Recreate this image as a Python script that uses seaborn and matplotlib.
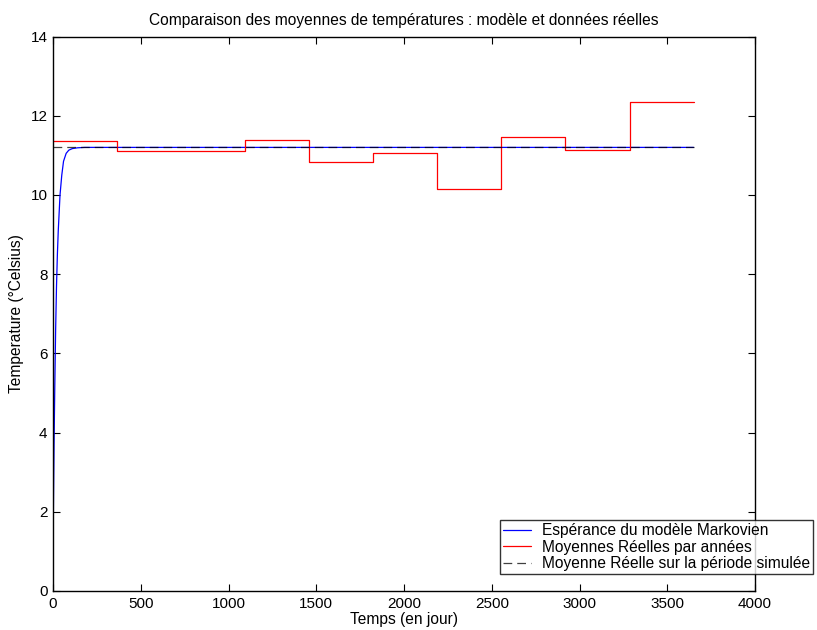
import numpy as np
import pandas as pd
import matplotlib
matplotlib.use("Agg")
import matplotlib.pyplot as plt
import seaborn as sns

# Yearly boundaries (days) and yearly mean temperatures (°C)
year_edges = [0, 365, 730, 1095, 1460, 1825, 2190, 2555, 2920, 3285, 3650]
yearly_means = [11.35, 11.12, 11.12, 11.39, 10.82, 11.05, 10.14, 11.47, 11.14, 12.35]

# Mean over the whole simulated period
period_mean = 11.20

# Expectation of the Markov model (days, °C)
model_days = [0, 3, 6, 10, 15, 20, 25, 30, 40, 50, 60, 75, 90, 110, 140, 180, 3650]
model_temp = [0.8, 2.4, 3.7, 5.1, 6.6, 7.7, 8.5, 9.1, 10.0, 10.5, 10.85, 11.05, 11.13, 11.17, 11.19, 11.2, 11.2]

x_ticks = [0, 500, 1000, 1500, 2000, 2500, 3000, 3500, 4000]
y_ticks = [0, 2, 4, 6, 8, 10, 12, 14]

sns.set_theme(style="white")
plt.rcParams["font.family"] = ["Liberation Sans", "DejaVu Sans"]
plt.rcParams["font.size"] = 11
plt.rcParams["text.color"] = "black"
plt.rcParams["axes.labelcolor"] = "black"
plt.rcParams["axes.titlecolor"] = "black"
plt.rcParams["legend.labelcolor"] = "black"

fig = plt.figure(figsize=(8.17, 6.3), dpi=100)
ax = fig.add_axes([53 / 817, 1 - 591 / 630, (755 - 53) / 817, (591 - 36.5) / 630])

model_df = pd.DataFrame({"jour": model_days, "temp": model_temp})
steps_df = pd.DataFrame({"jour": year_edges, "temp": yearly_means + [yearly_means[-1]]})
mean_df = pd.DataFrame({"jour": [0, year_edges[-1]], "temp": [period_mean, period_mean]})

sns.lineplot(data=model_df, x="jour", y="temp", ax=ax, color="blue", lw=0.9,
             estimator=None, sort=False, label="Espérance du modèle Markovien")
sns.lineplot(data=steps_df, x="jour", y="temp", ax=ax, color="red", lw=0.9,
             estimator=None, sort=False, drawstyle="steps-post",
             label="Moyennes Réelles par années")
sns.lineplot(data=mean_df, x="jour", y="temp", ax=ax, color="black", lw=0.9,
             estimator=None, sort=False, label="Moyenne Réelle sur la période simulée")
ax.lines[-1].set_linestyle((0, (7, 4)))
ax.lines[-1].set_alpha(0.75)

ax.set_xlim(0, 4000)
ax.set_ylim(0, 14)
ax.set_xticks(x_ticks)
ax.set_yticks(y_ticks)
ax.set_xticklabels([str(v) for v in x_ticks])
ax.set_yticklabels([str(v) for v in y_ticks])
ax.tick_params(direction="in", length=5, width=0.8, top=True, right=True,
               bottom=True, left=True, labelsize=11, colors="black", pad=4)
for s in ax.spines.values():
    s.set_color("black")
    s.set_linewidth(1.0)

ax.set_xlabel("Temps (en jour)", fontsize=11.2, labelpad=1)
ax.set_ylabel("Temperature (°Celsius)", fontsize=11.2, labelpad=5)
ax.set_title("Comparaison des moyennes de températures : modèle et données réelles",
             fontsize=11.2, pad=8)

leg = ax.legend(loc="upper left", bbox_to_anchor=(500 / 817, 1 - 520 / 630),
                bbox_transform=fig.transFigure, frameon=True, fancybox=False,
                edgecolor="black", fontsize=11.2, handlelength=1.8, handletextpad=0.7,
                borderpad=0.2, labelspacing=0.1, borderaxespad=0)
leg.get_frame().set_linewidth(1.0)

fig.savefig("out.png", dpi=100, facecolor="white")
